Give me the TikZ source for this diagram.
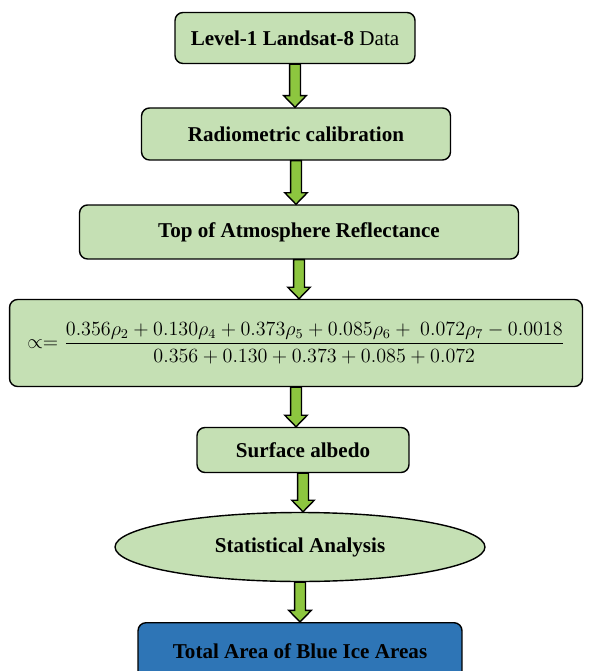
\documentclass[tikz,border=0pt]{standalone}
\usepackage{amsmath}
\usepackage{fontspec}
\setmainfont{Liberation Serif}
\usetikzlibrary{calc,shapes.geometric}
\definecolor{boxgreen}{HTML}{C5E0B4}
\definecolor{arrowgreen}{HTML}{8DC63F}
\definecolor{boxblue}{HTML}{2E75B6}
\newcommand{\flowarrow}[2]{%
  \draw[arrowline] let \p1=(#1.south), \p2=(#2.north) in
    (\x1-3.1pt,\y1) -- (\x1-3.1pt,\y2+6.6pt) -- (\x1-6.4pt,\y2+6.6pt) -- (\x1,\y2)
    -- (\x1+6.4pt,\y2+6.6pt) -- (\x1+3.1pt,\y2+6.6pt) -- (\x1+3.1pt,\y1) -- cycle;}

\begin{document}
\begin{tikzpicture}[x=0.02cm, y=-0.02cm,
        box/.style={draw, line width=0.8pt, rounded corners=0.16cm, fill=boxgreen,
            font=\fontsize{12}{14}\selectfont\bfseries, align=center, inner sep=0pt},
        stat/.style={ellipse, draw, line width=0.8pt, fill=boxgreen,
            font=\fontsize{12}{14}\selectfont\bfseries, inner sep=0pt},
        result/.style={box, fill=boxblue},
        arrowline/.style={draw=black, line width=0.8pt, fill=arrowgreen}]
        \clip (0,0) rectangle (589,671);
        \useasboundingbox (0,0) rectangle (589,671);
        \node[box, minimum width=4.8cm, minimum height=1.02cm] (level) at (295,38)
            {Level-1 Landsat-8 \textmd{Data}};
        \node[box, minimum width=6.18cm, minimum height=1.04cm] (radio) at (296,134)
            {Radiometric calibration};
        \node[box, minimum width=8.78cm, minimum height=1.08cm] (toa) at (299,232)
            {Top of Atmosphere Reflectance};
        \node[box, minimum width=11.46cm, minimum height=1.74cm, font=\large] (albedoeq) at (296,343)
            {\scalebox{0.955}{$\propto = \dfrac{0.356\rho_2 + 0.130\rho_4 + 0.373\rho_5 + 0.085\rho_6 +\ 0.072\rho_7 - 0.0018}{0.356 + 0.130 + 0.373 + 0.085 + 0.072}$}};
        \node[box, minimum width=4.24cm, minimum height=0.9cm] (albedo) at (303,450)
            {Surface albedo};
        \node[stat, minimum width=7.4cm, minimum height=1.38cm] (stats) at (300,547)
            {Statistical Analysis};
        \node[result, minimum width=6.48cm, minimum height=1.16cm, anchor=north] (bia) at (300,622)
            {Total Area of Blue Ice Areas};
        \flowarrow{level}{radio}
        \flowarrow{radio}{toa}
        \flowarrow{toa}{albedoeq}
        \flowarrow{albedoeq}{albedo}
        \flowarrow{albedo}{stats}
        \flowarrow{stats}{bia}
    \end{tikzpicture}
\end{document}
